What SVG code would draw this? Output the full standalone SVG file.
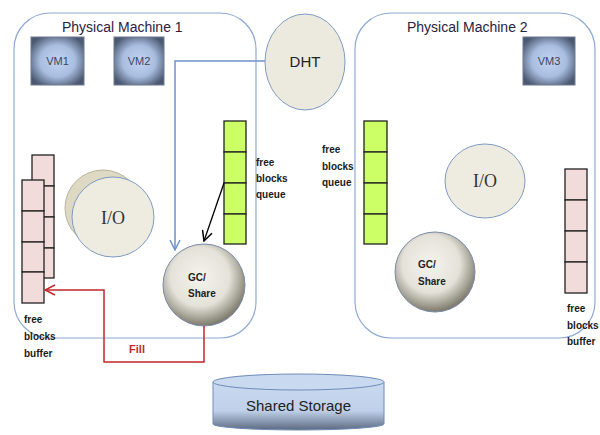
<svg xmlns="http://www.w3.org/2000/svg" width="600" height="435" viewBox="0 0 600 435">
<defs>
<radialGradient id="vmg" cx="50%" cy="50%" r="60%">
<stop offset="0" stop-color="#c3d4f2"/><stop offset="0.55" stop-color="#a9bde0"/><stop offset="1" stop-color="#4a5870"/>
</radialGradient>
<radialGradient id="gcg" cx="45%" cy="40%" r="60%">
<stop offset="0" stop-color="#f4f3ee"/><stop offset="0.6" stop-color="#e4e2d8"/><stop offset="1" stop-color="#7d7a6c"/>
</radialGradient>
<linearGradient id="cyl" x1="0" y1="0" x2="0" y2="1">
<stop offset="0" stop-color="#c9d9ef"/><stop offset="0.6" stop-color="#bfd0ea"/><stop offset="1" stop-color="#5c6a80"/>
</linearGradient>
<marker id="ab" viewBox="0 0 12 12" refX="11" refY="6" markerWidth="12" markerHeight="12" markerUnits="userSpaceOnUse" orient="auto">
<path d="M1,1 L11,6 L1,11" fill="none" stroke="#6f93c8" stroke-width="1.5"/>
</marker>
<marker id="ak" viewBox="0 0 12 12" refX="11" refY="6" markerWidth="12" markerHeight="12" markerUnits="userSpaceOnUse" orient="auto">
<path d="M1,1 L11,6 L1,11" fill="none" stroke="#000" stroke-width="1.5"/>
</marker>
<marker id="ar" viewBox="0 0 12 12" refX="11" refY="6" markerWidth="12" markerHeight="12" markerUnits="userSpaceOnUse" orient="auto">
<path d="M1,1 L11,6 L1,11" fill="none" stroke="#c0282d" stroke-width="1.5"/>
</marker>
</defs>
<style>
.pm{fill:none;stroke:#8eaad4;stroke-width:1.2}
.title{font-family:"Liberation Sans",Arial,sans-serif;font-size:14px;fill:#2a2240}
.vm{fill:url(#vmg);stroke:#6f7a90;stroke-width:1}
.vmt{font-family:"Liberation Sans",Arial,sans-serif;font-size:11px;fill:#3a4660;text-anchor:middle}
.q{fill:#ccff66;stroke:#222;stroke-width:1.3}
.b{fill:#f2dcdb;stroke:#222;stroke-width:1.3}
.lbl{font-family:"Liberation Sans",Arial,sans-serif;font-size:10px;font-weight:bold;fill:#1a1a1a}
.io{fill:#eeece1;stroke:#7f9ac2;stroke-width:1}
.iot{font-family:"Liberation Serif","Times New Roman",serif;font-size:18px;fill:#333;text-anchor:middle}
.gc{fill:url(#gcg);stroke:#7a8aa8;stroke-width:1}
.gct{font-family:"Liberation Sans",Arial,sans-serif;font-size:10px;font-weight:bold;fill:#222}
</style>
<g id="pm1">
<rect class="pm" x="14" y="13" width="242" height="325" rx="36"/>
<text class="title" x="62" y="32">Physical Machine 1</text>
</g>
<g id="pm2">
<rect class="pm" x="355" y="13" width="240" height="325" rx="36"/>
<text class="title" x="407" y="32">Physical Machine 2</text>
</g>
<g id="vm1"><rect class="vm" x="31" y="37" width="53" height="48"/><text class="vmt" x="57.5" y="65">VM1</text></g>
<g id="vm2"><rect class="vm" x="114" y="37" width="50" height="48"/><text class="vmt" x="139" y="65">VM2</text></g>
<g id="vm3"><rect class="vm" x="523" y="37" width="52" height="48"/><text class="vmt" x="549" y="65">VM3</text></g>
<g id="dht">
<ellipse cx="305" cy="62" rx="40" ry="48" fill="#eceade" stroke="#7f9ac2" stroke-width="1"/>
<text x="305" y="67" font-family="Liberation Sans,Arial,sans-serif" font-size="15" fill="#222" text-anchor="middle">DHT</text>
</g>
<g id="queue1">
<rect class="q" x="224" y="121" width="22" height="31"/><rect class="q" x="224" y="152" width="22" height="31"/><rect class="q" x="224" y="183" width="22" height="31"/><rect class="q" x="224" y="214" width="22" height="30"/>
<text class="lbl" x="256" y="166">free</text><text class="lbl" x="256" y="182">blocks</text><text class="lbl" x="256" y="198">queue</text>
</g>
<g id="buffer1">
<rect class="b" x="32" y="155" width="22" height="31"/><rect class="b" x="32" y="186" width="22" height="31"/><rect class="b" x="32" y="217" width="22" height="31"/><rect class="b" x="32" y="248" width="22" height="30"/>
<rect class="b" x="22" y="180" width="22" height="31"/><rect class="b" x="22" y="211" width="22" height="31"/><rect class="b" x="22" y="242" width="22" height="30"/><rect class="b" x="22" y="272" width="22" height="31"/>
<text class="lbl" x="24" y="323">free</text><text class="lbl" x="24" y="340">blocks</text><text class="lbl" x="24" y="357">buffer</text>
</g>
<g id="io1">
<ellipse cx="103" cy="208" rx="38" ry="38" fill="#ddd9c3" stroke="#b8b49c" stroke-width="1"/>
<ellipse class="io" cx="113" cy="217" rx="41" ry="40"/>
<text class="iot" x="113" y="224">I/O</text>
</g>
<g id="gc1">
<circle class="gc" cx="204" cy="285" r="41"/>
<text class="gct" x="188" y="281">GC/</text><text class="gct" x="188" y="297">Share</text>
</g>
<g id="queue2">
<rect class="q" x="364" y="121" width="23" height="31"/><rect class="q" x="364" y="152" width="23" height="31"/><rect class="q" x="364" y="183" width="23" height="31"/><rect class="q" x="364" y="214" width="23" height="30"/>
<text class="lbl" x="322" y="153">free</text><text class="lbl" x="322" y="170">blocks</text><text class="lbl" x="322" y="186">queue</text>
</g>
<g id="io2">
<ellipse class="io" cx="485" cy="181" rx="40" ry="37"/>
<text class="iot" x="485" y="187">I/O</text>
</g>
<g id="gc2">
<circle class="gc" cx="435" cy="272" r="40"/>
<text class="gct" x="418" y="268">GC/</text><text class="gct" x="418" y="285">Share</text>
</g>
<g id="buffer2">
<rect class="b" x="565" y="169" width="22" height="31"/><rect class="b" x="565" y="200" width="22" height="31"/><rect class="b" x="565" y="231" width="22" height="31"/><rect class="b" x="565" y="262" width="22" height="31"/>
<text class="lbl" x="567" y="312">free</text><text class="lbl" x="567" y="329">blocks</text><text class="lbl" x="567" y="345">buffer</text>
</g>
<g id="storage">
<path d="M213,382 L213,424 A85.5,6 0 0 0 384,424 L384,382" fill="url(#cyl)" stroke="#6f8cb8" stroke-width="1"/>
<ellipse cx="298.5" cy="382" rx="85.5" ry="8" fill="#c9d9ef" stroke="#6f8cb8" stroke-width="1"/>
<text x="298.5" y="411" font-family="Liberation Sans,Arial,sans-serif" font-size="15" fill="#222" text-anchor="middle">Shared Storage</text>
</g>
<g id="connectors" fill="none">
<path d="M265,61 L175,61 L175,250" stroke="#6f93c8" stroke-width="1.5" marker-end="url(#ab)"/>
<path d="M224,183 L204,241" stroke="#000" stroke-width="1.3" marker-end="url(#ak)"/>
<path d="M204,326 L204,362 L104,362 L104,290 L45,290" stroke="#c0282d" stroke-width="1.5" marker-end="url(#ar)"/>
<text x="137" y="353" font-family="Liberation Sans,Arial,sans-serif" font-size="11" font-weight="bold" fill="#c0282d" stroke="none" text-anchor="middle">Fill</text>
</g>
</svg>
